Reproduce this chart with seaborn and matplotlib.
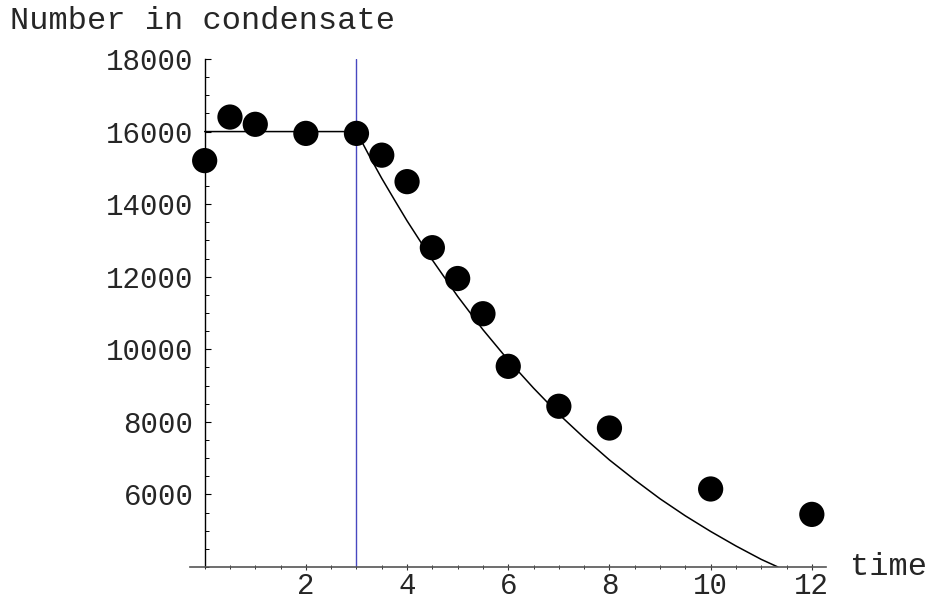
import numpy as np
import pandas as pd
import seaborn as sns
import matplotlib.pyplot as plt
from matplotlib.ticker import FixedLocator, MultipleLocator

# Measured points (time, number in condensate)
time_pts = [0, 0.5, 1, 2, 3, 3.5, 4, 4.5, 5, 5.5, 6, 7, 8, 10, 12]
number_pts = [15200, 16400, 16200, 15950, 15950, 15350, 14620, 12800,
              11950, 10980, 9530, 8430, 7830, 6150, 5450]

# Fit curve
curve_t = [0, 3, 3.25, 3.5, 3.75, 4, 4.5, 5, 5.5, 6, 6.5, 7, 7.5, 8,
           8.5, 9, 9.5, 10, 10.5, 11, 11.33]
curve_n = [16000, 16000, 15340, 14710, 14120, 13540, 12460, 11460, 10540,
           9700, 8930, 8210, 7560, 6950, 6400, 5880, 5410, 4980, 4580,
           4210, 4000]

release_time = 3

y_ticks = [6000, 8000, 10000, 12000, 14000, 16000, 18000]
x_ticks = [2, 4, 6, 8, 10, 12]

df_pts = pd.DataFrame({'time': time_pts, 'number': number_pts})
df_fit = pd.DataFrame({'time': curve_t, 'number': curve_n})

sns.set_style('white')
plt.rcParams['font.family'] = ['Liberation Mono', 'DejaVu Sans Mono']

fig = plt.figure(figsize=(9.29, 6.02), dpi=100)
ax = fig.add_axes([190 / 929, 35 / 602, 636 / 929, 508 / 602])

sns.lineplot(data=df_fit, x='time', y='number', ax=ax, color='black',
             linewidth=1.1, sort=False, estimator=None)
ax.plot([release_time, release_time], [4000, 18000], color='#4848c0',
        linewidth=1.0)
sns.scatterplot(data=df_pts, x='time', y='number', ax=ax, color='black',
                s=330, edgecolor='none', clip_on=False, zorder=5)

ax.set_xlim(-0.29, 12.28)
ax.set_ylim(4000, 18000)

for side in ['top', 'right']:
    ax.spines[side].set_visible(False)
ax.spines['left'].set_position(('data', 0))
ax.spines['left'].set_color('black')
ax.spines['left'].set_linewidth(1.0)
ax.spines['bottom'].set_color('#555555')
ax.spines['bottom'].set_linewidth(1.2)

ax.yaxis.set_major_locator(FixedLocator(y_ticks))
ax.yaxis.set_minor_locator(MultipleLocator(500))
ax.xaxis.set_major_locator(FixedLocator(x_ticks))
ax.xaxis.set_minor_locator(MultipleLocator(0.5))
ax.set_yticklabels([str(v) for v in y_ticks])
ax.set_xticklabels([str(v) for v in x_ticks])

# seaborn's white style switches ticks off, turn them back on
ax.tick_params(left=True, bottom=True, which='both')
ax.tick_params(axis='y', which='major', direction='in', length=4.5,
               width=0.8, labelsize=21, pad=8, color='black')
ax.tick_params(axis='y', which='minor', direction='in', length=2.8,
               width=0.7, color='black')
ax.tick_params(axis='x', which='major', direction='inout', length=5,
               width=0.8, labelsize=21, pad=1, color='#333333')
ax.tick_params(axis='x', which='minor', direction='inout', length=3.5,
               width=0.7, color='#333333')

ax.set_xlabel('')
ax.set_ylabel('')
fig.text(10 / 929, 1 - 21 / 602, 'Number in condensate', fontsize=23,
         ha='left', va='center')
fig.text(850 / 929, 1 - 567 / 602, 'time', fontsize=23,
         ha='left', va='center')

fig.savefig('out.png', dpi=100)
